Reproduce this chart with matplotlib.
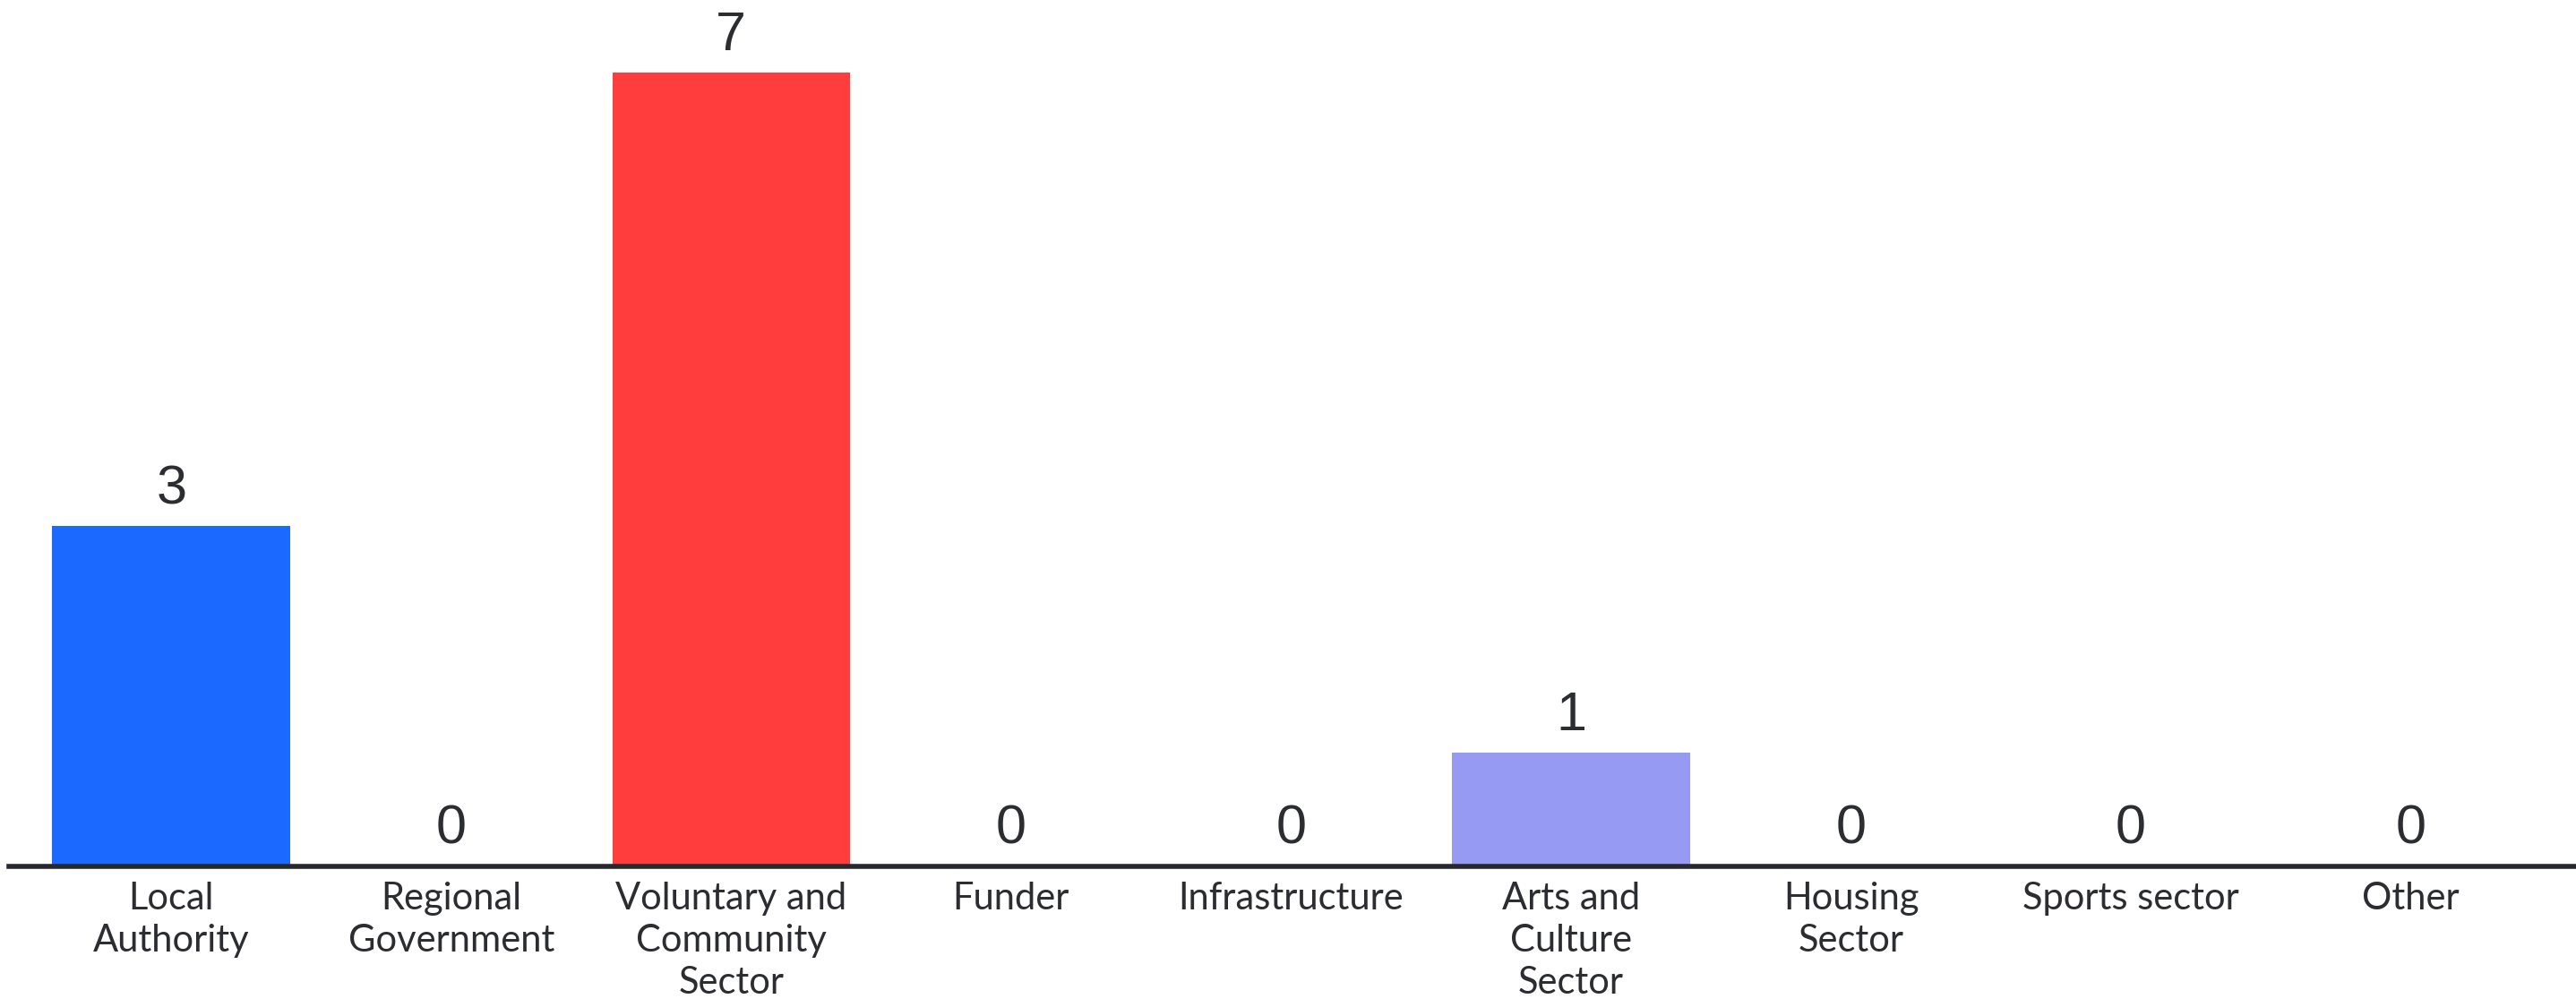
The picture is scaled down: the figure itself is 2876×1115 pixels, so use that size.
import matplotlib.pyplot as plt
import numpy as np

categories = ["Local\nAuthority", "Regional\nGovernment", "Voluntary and\nCommunity\nSector",
              "Funder", "Infrastructure", "Arts and\nCulture\nSector", "Housing\nSector",
              "Sports sector", "Other"]
values = [3, 0, 7, 0, 0, 1, 0, 0, 0]
colors = ["#1c69ff", "#1c69ff", "#ff3d3d", "#ff3d3d", "#ff3d3d", "#969af2", "#969af2",
          "#969af2", "#969af2"]

W, H = 2876, 1115
fig = plt.figure(figsize=(W / 100, H / 100), dpi=100)
base = 967
px_per_unit = 126.6
ymax = 7.5
ax = fig.add_axes([10 / W, (H - base) / H, 1 - 10 / W, ymax * px_per_unit / H])

x = np.arange(len(categories))
ax.bar(x, values, width=0.85, color=colors, zorder=1)

# value labels above each bar
for xi, v in zip(x, values):
    ax.annotate(str(v), (xi, v), xytext=(0, 12), textcoords="offset pixels",
                ha="center", va="bottom", fontsize=44, color="#2b2d31",
                family="Liberation Sans")

ax.set_xlim(-0.58, 8.59)
ax.set_ylim(0, ymax)
ax.set_xticks(x)
ax.set_xticklabels(categories, fontsize=30, color="#2b2d31", family="Lato",
                   linespacing=1.3)
ax.tick_params(axis="x", length=0, pad=12)
ax.set_yticks([])
for s in ["top", "left", "right"]:
    ax.spines[s].set_visible(False)
ax.spines["bottom"].set_linewidth(4)
ax.spines["bottom"].set_color("#26282d")
ax.spines["bottom"].set_zorder(3)

fig.savefig("out.png", dpi=100)
